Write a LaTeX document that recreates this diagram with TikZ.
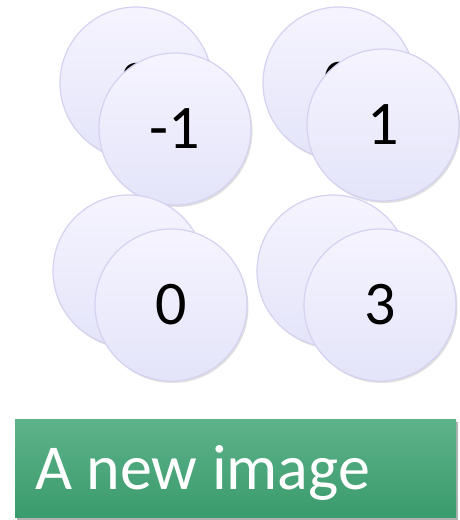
\documentclass[tikz,border=0pt]{standalone}
\usepackage{fontspec}
\setmainfont{Carlito}
\usetikzlibrary{shadows}
\definecolor{circtop}{RGB}{245,244,254}
\definecolor{circbot}{RGB}{228,228,250}
\definecolor{circline}{RGB}{212,210,240}
\definecolor{gtop}{RGB}{94,178,138}
\definecolor{gbot}{RGB}{58,155,108}
\tikzset{
  disc/.style={circle, minimum size=152pt, inner sep=0pt, draw=circline, line width=1.2pt,
    top color=circtop, bottom color=circbot,
    drop shadow={shadow xshift=1.5pt, shadow yshift=-2pt, opacity=0.25, fill=black!50},
    font=\fontsize{62}{70}\selectfont},
  banner/.style={rectangle, minimum width=441pt, minimum height=98pt, inner sep=0pt,
    top color=gtop, bottom color=gbot,
    drop shadow={shadow xshift=2pt, shadow yshift=-3pt, opacity=0.5, fill=black!60}},
  bannertext/.style={text=white, font=\fontsize{64}{74}\selectfont, inner sep=0pt}
}
\begin{document}
\begin{tikzpicture}[x=1pt,y=-1pt]
\useasboundingbox (0,0) rectangle (459,520);
% top-left pair
\node[disc] (b1) at (136,83) {2};
\node[disc] (f1) at (175,129) {-1};
% top-right pair
\node[disc] (b2) at (339,83) {0};
\node[disc] (f2) at (383,125) {1};
% bottom-left pair
\node[disc] (b3) at (129,271) {};
\node[disc] (f3) at (171,305) {0};
% bottom-right pair
\node[disc] (b4) at (333,271) {};
\node[disc] (f4) at (380,305) {3};
% banner
\node[banner] (bn) at (235.5,468) {};
\node[bannertext, anchor=base west] (bt) at (35,489) {A new image};
\end{tikzpicture}
\end{document}
